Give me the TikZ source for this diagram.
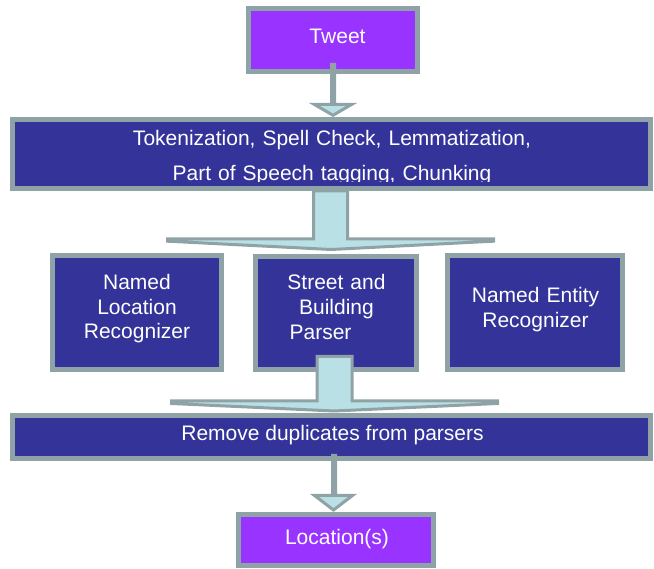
\documentclass[tikz,border=0pt]{standalone}
\usepackage{fontspec}
\setmainfont{Liberation Sans}
\definecolor{bordergray}{RGB}{143,163,166}
\definecolor{darkblue}{RGB}{51,51,153}
\definecolor{purp}{RGB}{153,51,255}
\definecolor{lightcyan}{RGB}{185,224,228}
\begin{document}
\begin{tikzpicture}[x=1pt,y=-1pt,
  box/.style={draw=bordergray, line width=5pt, inner sep=0pt, rectangle},
  dbox/.style={box, fill=darkblue},
  pbox/.style={box, fill=purp},
  txt/.style={text=white, font=\fontsize{21}{24.5}\selectfont, inner sep=0pt, align=center, anchor=base},
  arrowshape/.style={draw=bordergray, fill=lightcyan, line width=3pt, line join=miter}]
\useasboundingbox (0,0) rectangle (654,569);

% boxes
\node[pbox, minimum width=169pt, minimum height=63pt] (tweet) at (333,40) {};
\node[dbox, minimum width=638pt, minimum height=69pt] (prep) at (331.5,154) {};
\node[dbox, minimum width=169pt, minimum height=114pt] (nlr) at (137,312.5) {};
\node[dbox, minimum width=161pt, minimum height=113pt] (sbp) at (336,313) {};
\node[dbox, minimum width=175pt, minimum height=114pt] (ner) at (535,312.5) {};
\node[dbox, minimum width=638pt, minimum height=43pt] (dup) at (331.5,437) {};
\node[pbox, minimum width=195pt, minimum height=51pt] (loc) at (336,540) {};

% texts
\node[txt] (tweettxt) at (337.5,43.3) {Tweet};
\begin{scope}
  \clip (10,117) rectangle (653,181.8);
  \node[txt, text width=620pt, font=\fontsize{21}{35}\selectfont] (preptxt) at (332,145.7)
    {Tokenization, Spell Check, Lemmatization,\\Part of Speech tagging, Chunking};
\end{scope}
\node[txt, text width=165pt] (nlrtxt) at (137,290) {Named\\Location\\Recognizer};
\node[txt, text width=160pt, font=\fontsize{21}{25}\selectfont] (sbptxt) at (336.5,290) {Street and\\Building\\Parser\hspace*{32pt}};
\node[txt, text width=170pt] (nertxt) at (535.5,302.7) {Named Entity\\Recognizer};
\node[txt] (duptxt) at (332.5,441) {Remove duplicates from parsers};
\node[txt] (loctxt) at (337,544.3) {Location(s)};

% arrows
\draw[arrowshape] (331.5,64.5) -- (331.5,104.5) -- (314.5,104.5) -- (333,115.3)
  -- (351.5,104.5) -- (334.5,104.5) -- (334.5,64.5) -- cycle;
\draw[arrowshape] (313.5,191) -- (313.5,238.8) -- (167.5,238.8) -- (167.5,241.2)
  -- (331,249.5) -- (493.5,241.2) -- (493.5,238.8) -- (347.5,238.8) -- (347.5,191) -- cycle;
\draw[arrowshape] (317,356.5) -- (317,400.8) -- (171.5,400.8) -- (171.5,403.5)
  -- (334,411) -- (497.5,403.5) -- (497.5,400.8) -- (352,400.8) -- (352,356.5) -- cycle;
\draw[arrowshape] (332.5,455.5) -- (332.5,495.5) -- (314.5,495.5) -- (333.5,510)
  -- (352.5,495.5) -- (335.5,495.5) -- (335.5,455.5) -- cycle;
\end{tikzpicture}
\end{document}
